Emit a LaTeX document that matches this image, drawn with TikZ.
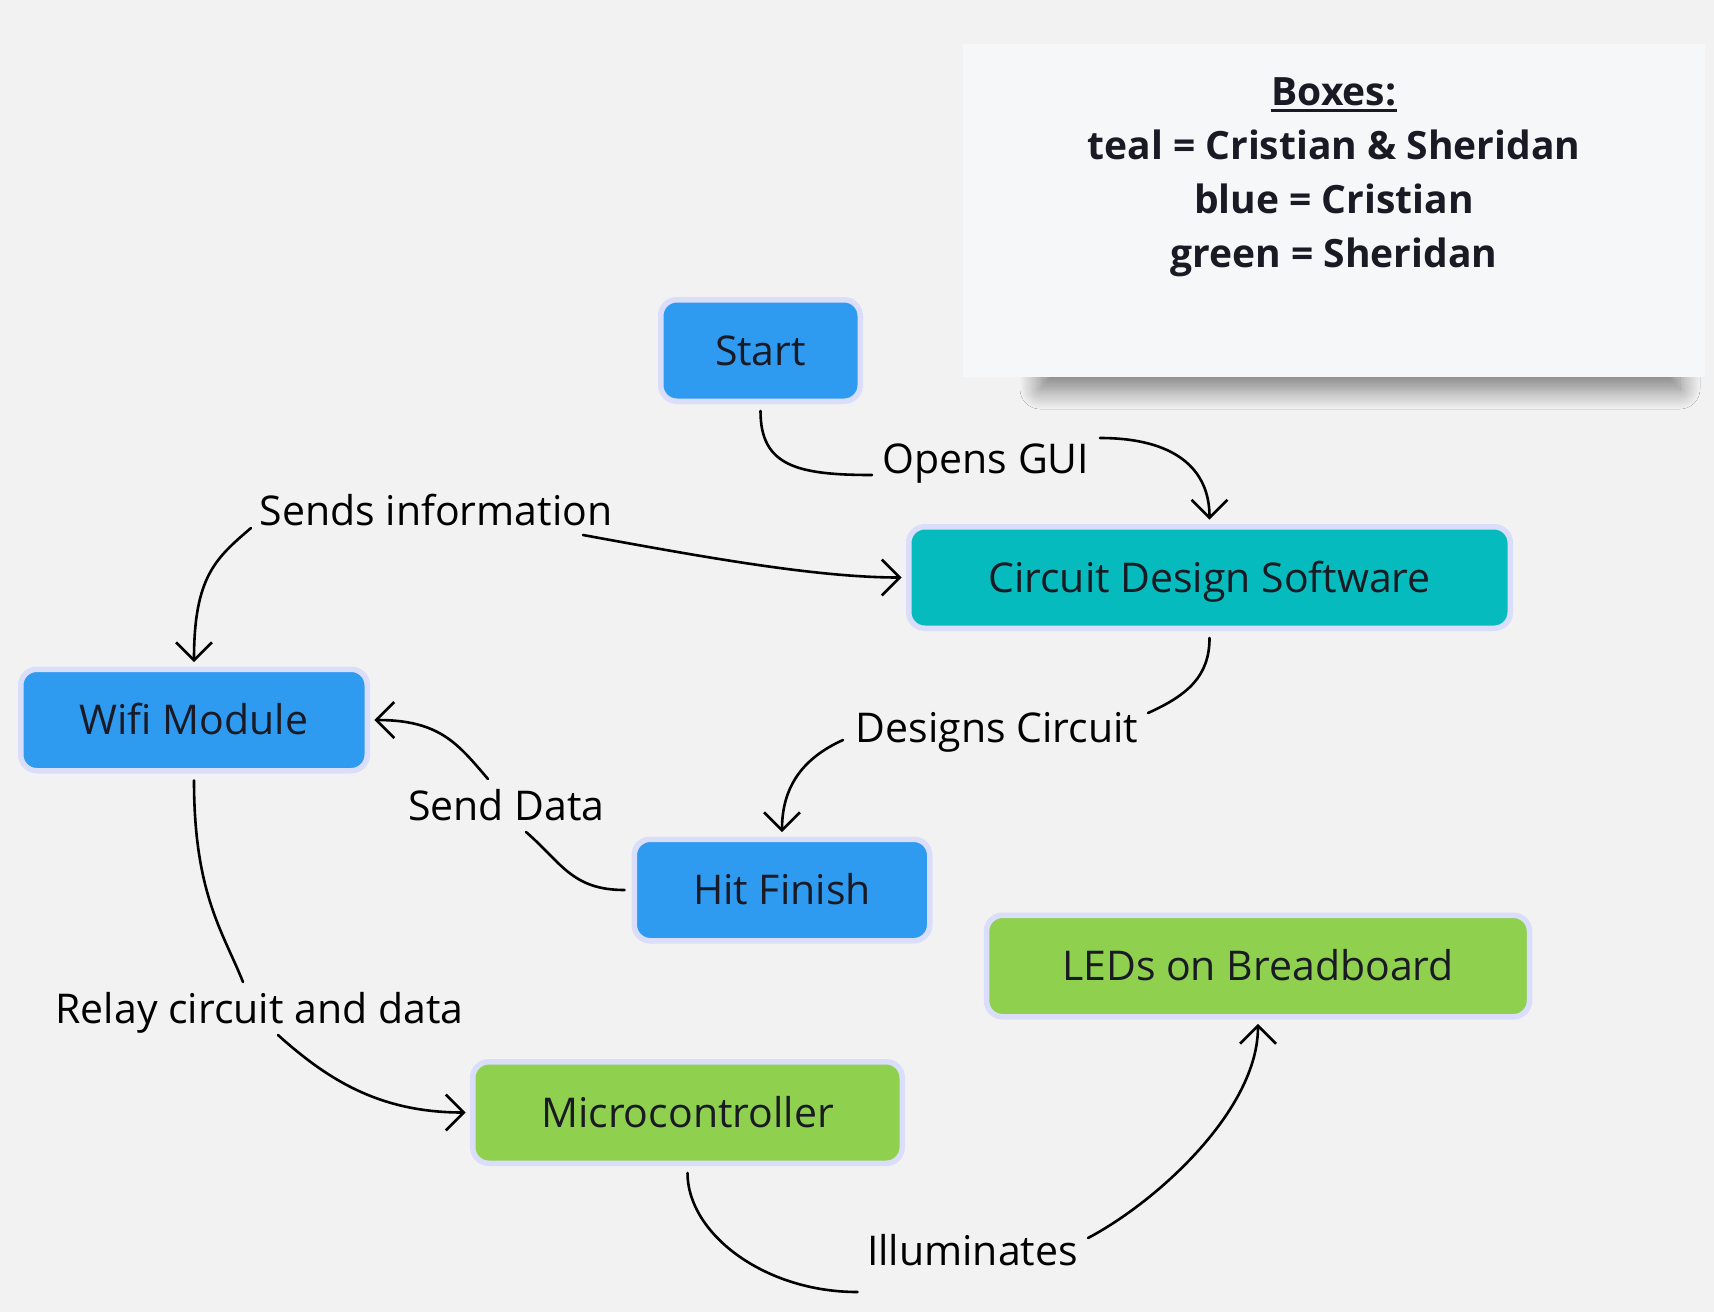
\documentclass[tikz,border=0pt]{standalone}
\usepackage{fontspec}
\setmainfont{Open Sans}
\usetikzlibrary{arrows.meta,shadows.blur}
\definecolor{bgc}{HTML}{F2F2F2}
\definecolor{cardc}{HTML}{F6F7F9}
\definecolor{bluec}{HTML}{2F9BF0}
\definecolor{tealc}{HTML}{06BBBD}
\definecolor{greenc}{HTML}{8FD14F}
\definecolor{edgec}{HTML}{DADEFA}
\definecolor{textc}{HTML}{1A1A24}
\begin{document}
\begin{tikzpicture}[x=0.5pt,y=-0.5pt,
  box/.style={rectangle, rounded corners=8pt, draw=edgec, line width=2.75pt,
    minimum height=50.75pt, inner sep=0pt, text=textc,
    font=\fontsize{20.5pt}{24pt}\selectfont, text height=14.7pt, text depth=0pt},
  bluebox/.style={box, fill=bluec},
  tealbox/.style={box, fill=tealc},
  greenbox/.style={box, fill=greenc},
  lab/.style={font=\fontsize{20.5pt}{24pt}\selectfont, text=black, inner sep=0pt, anchor=base},
  leg/.style={font=\bfseries\fontsize{19.5pt}{24pt}\selectfont, text=textc, inner sep=0pt, anchor=base},
  conn/.style={line width=1.3pt, draw=black, line cap=round, line join=round},
  arr/.style={-{Straight Barb[length=9pt,width=18pt]}, shorten >=2.2pt},
  fromnode/.style={shorten <=3.5pt}
]
\useasboundingbox (0,0) rectangle (1714,1312);
\fill[bgc] (0,0) rectangle (1714,1312);

% legend card
\fill[bgc, blur shadow={shadow xshift=0pt, shadow yshift=-6pt, shadow blur radius=10pt, shadow blur steps=20, shadow opacity=50}]
  (1040,320) rectangle (1680,377);
\fill[cardc] (963,44) rectangle (1705,377);
\node[leg] (leg1) at (1334,105) {Boxes:};
\draw[line width=1.5pt, textc] ([yshift=-2.5pt]leg1.base west) -- ([yshift=-2.5pt]leg1.base east);
\node[leg] (leg2) at (1334,159) {teal = Cristian \& Sheridan};
\node[leg] (leg3) at (1334,213) {blue = Cristian};
\node[leg] (leg4) at (1334,267) {green = Sheridan};

% boxes
\node[bluebox, minimum width=99.75pt] (start) at (760.5,350.5) {Start};
\node[tealbox, minimum width=300.75pt] (cds) at (1209.5,577.5) {Circuit Design Software};
\node[bluebox, minimum width=173.25pt] (wifi) at (194,720) {Wifi Module};
\node[bluebox, minimum width=147.75pt] (hit) at (782,890) {Hit Finish};
\node[greenbox, minimum width=271.5pt] (leds) at (1258,966) {LEDs on Breadboard};
\node[greenbox, minimum width=214.75pt] (micro) at (687.5,1112.5) {Microcontroller};

% label gaps
\coordinate (og1) at (872,475);  \coordinate (og2) at (1100,438);
\coordinate (si1) at (251,528);  \coordinate (si2) at (583,535);
\coordinate (dc1) at (1148,713); \coordinate (dc2) at (843,740);
\coordinate (sd1) at (526,832);  \coordinate (sd2) at (488,779);
\coordinate (rc1) at (243,982);  \coordinate (rc2) at (278,1035);
\coordinate (il1) at (857.5,1292); \coordinate (il2) at (1088,1238);

% connectors
\draw[conn, fromnode] (start.south) .. controls +(0,62) and +(-75,0) .. (og1);
\draw[conn, arr] (og2) .. controls +(75,0) and +(0,-55) .. (cds.north);
\draw[conn, arr] (si1) .. controls +(-35,30) and +(0,-90) .. (wifi.north);
\draw[conn, arr] (si2) .. controls +(120,22) and +(-90,0) .. (cds.west);
\draw[conn, fromnode] (cds.south) .. controls +(0,45) and +(40,-18) .. (dc1);
\draw[conn, arr] (dc2) .. controls +(-40,18) and +(0,-50) .. (hit.north);
\draw[conn, fromnode] (hit.west) .. controls +(-60,0) and +(35,30) .. (sd1);
\draw[conn, arr] (sd2) .. controls +(-30,-35) and +(70,0) .. (wifi.east);
\draw[conn, fromnode] (wifi.south) .. controls +(0,120) and +(-20,-50) .. (rc1);
\draw[conn, arr] (rc2) .. controls +(50,45) and +(-90,0) .. (micro.west);
\draw[conn, fromnode] (micro.south) .. controls +(0,67) and +(-94,0) .. (il1);
\draw[conn, arr] (il2) .. controls +(70,-37) and +(0,90) .. (leds.south);

% labels
\node[lab] (l1) at (986,473) {Opens GUI};
\node[lab] (l2) at (436,525) {Sends information};
\node[lab] (l3) at (997,742) {Designs Circuit};
\node[lab] (l4) at (506.5,820) {Send Data};
\node[lab] (l5) at (259.5,1023) {Relay circuit and data};
\node[lab] (l6) at (972.5,1265) {Illuminates};
\end{tikzpicture}
\end{document}
